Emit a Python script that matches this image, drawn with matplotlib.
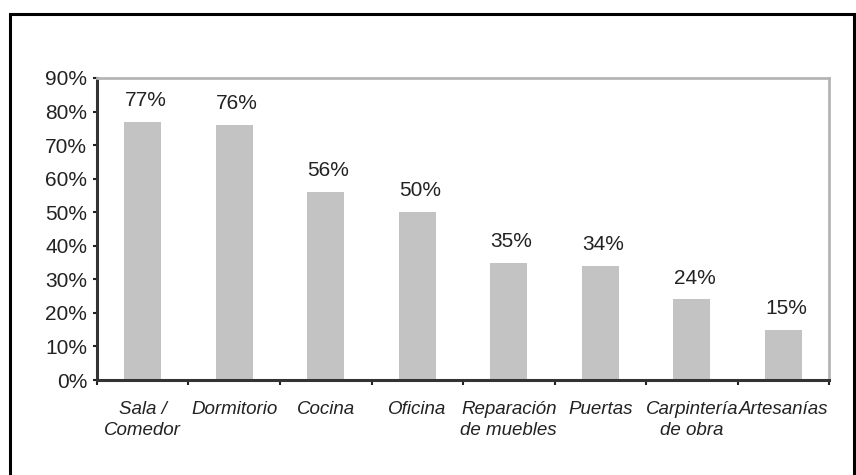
import matplotlib
matplotlib.use("Agg")
import matplotlib.pyplot as plt
from matplotlib.patches import Rectangle
from matplotlib import font_manager

categories = ["Sala /\nComedor", "Dormitorio", "Cocina", "Oficina",
              "Reparación\nde muebles", "Puertas", "Carpintería\nde obra", "Artesanías"]
values = [77, 76, 56, 50, 35, 34, 24, 15]
yticks = [0, 10, 20, 30, 40, 50, 60, 70, 80, 90]
ytick_labels = [f"{v}%" for v in yticks]

names = {f.name for f in font_manager.fontManager.ttflist}
if "Liberation Sans Narrow" in names:
    fam = ["Liberation Sans Narrow", "Liberation Sans", "DejaVu Sans"]
    num_fs, cat_fs = 17.5, 16
else:
    fam = ["Liberation Sans", "DejaVu Sans"]
    num_fs, cat_fs = 15, 13.5
plt.rcParams['font.family'] = fam

fig = plt.figure(figsize=(8.56, 4.75), dpi=100)
ax = fig.add_axes([0.1133, 0.2, 0.9685 - 0.1133, 0.8358 - 0.2])

x = list(range(len(categories)))
ax.bar(x, values, width=0.4, color="#c3c3c3", edgecolor="none", zorder=2)
ax.set_xlim(-0.5, len(categories) - 0.5)
ax.set_ylim(0, 90)

for xi, v in zip(x, values):
    ax.annotate(f"{v}%", (xi, v), xytext=(2, 8.5), textcoords="offset points",
                ha="center", va="bottom", fontsize=num_fs, color="#222222")

ax.set_yticks(yticks)
ax.set_yticklabels(ytick_labels, fontsize=num_fs, color="#222222")
ax.set_xticks([i - 0.5 for i in range(len(categories) + 1)])
ax.set_xticklabels([""] * (len(categories) + 1))
ax.set_xticks(x, minor=True)
ax.set_xticklabels(categories, minor=True, fontsize=cat_fs, style="italic",
                   color="#222222", linespacing=1.3)
ax.tick_params(axis="x", which="minor", length=0, pad=15)
ax.tick_params(axis="x", which="major", length=3.5, width=1.5, direction="out", color="#222222")
ax.tick_params(axis="y", length=3, width=1.5, direction="out", color="#222222", pad=4)

for s in ["left", "bottom"]:
    ax.spines[s].set_color("#333333")
    ax.spines[s].set_linewidth(2.2)
for s in ["top", "right"]:
    ax.spines[s].set_color("#b5b5b5")
    ax.spines[s].set_linewidth(2)

frame = Rectangle((0.0117, -0.05), 0.9977 - 0.0117, 0.9705 + 0.05,
                  transform=fig.transFigure, fill=False, edgecolor="black",
                  linewidth=2.2, clip_on=False)
fig.patches.append(frame)

fig.savefig("out.png", dpi=100)
